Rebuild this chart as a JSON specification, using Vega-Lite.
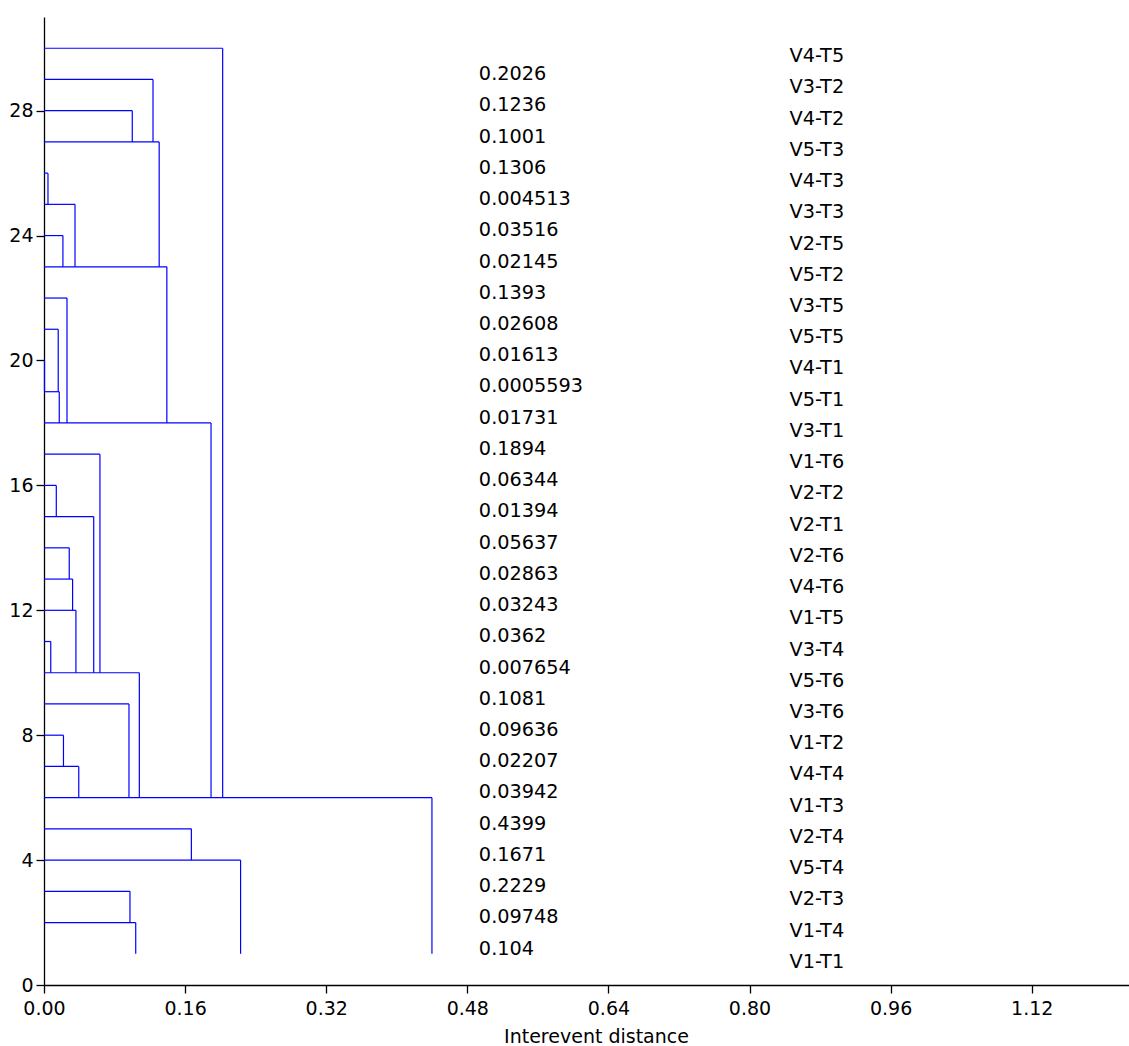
{
  "$schema": "https://vega.github.io/schema/vega-lite/v6.json",
  "width": 1085,
  "height": 968,
  "autosize": {"type": "none"},
  "padding": {"left": 44, "top": 17, "right": 0, "bottom": 61},
  "background": "white",
  "config": {
    "view": {"stroke": null},
    "font": "DejaVu Sans",
    "axis": {
      "grid": false,
      "labelFlush": false,
      "labelOverlap": false,
      "domainColor": "black",
      "tickColor": "black",
      "labelColor": "black",
      "titleColor": "black",
      "labelFont": "DejaVu Sans",
      "titleFont": "DejaVu Sans",
      "labelFontSize": 19,
      "titleFontSize": 19,
      "titleFontWeight": "normal",
      "tickSize": 8,
      "domainWidth": 1.3,
      "tickWidth": 1.3
    }
  },
  "data": {
    "values": [
      {"leaf": 30, "label": "V4-T5", "d": 0.2026, "bottom": 6},
      {"leaf": 29, "label": "V3-T2", "d": 0.1236, "bottom": 27},
      {"leaf": 28, "label": "V4-T2", "d": 0.1001, "bottom": 27},
      {"leaf": 27, "label": "V5-T3", "d": 0.1306, "bottom": 23},
      {"leaf": 26, "label": "V4-T3", "d": 0.004513, "bottom": 25},
      {"leaf": 25, "label": "V3-T3", "d": 0.03516, "bottom": 23},
      {"leaf": 24, "label": "V2-T5", "d": 0.02145, "bottom": 23},
      {"leaf": 23, "label": "V5-T2", "d": 0.1393, "bottom": 18},
      {"leaf": 22, "label": "V3-T5", "d": 0.02608, "bottom": 18},
      {"leaf": 21, "label": "V5-T5", "d": 0.01613, "bottom": 19},
      {"leaf": 20, "label": "V4-T1", "d": 0.0005593, "bottom": 19},
      {"leaf": 19, "label": "V5-T1", "d": 0.01731, "bottom": 18},
      {"leaf": 18, "label": "V3-T1", "d": 0.1894, "bottom": 6},
      {"leaf": 17, "label": "V1-T6", "d": 0.06344, "bottom": 10},
      {"leaf": 16, "label": "V2-T2", "d": 0.01394, "bottom": 15},
      {"leaf": 15, "label": "V2-T1", "d": 0.05637, "bottom": 10},
      {"leaf": 14, "label": "V2-T6", "d": 0.02863, "bottom": 13},
      {"leaf": 13, "label": "V4-T6", "d": 0.03243, "bottom": 12},
      {"leaf": 12, "label": "V1-T5", "d": 0.0362, "bottom": 10},
      {"leaf": 11, "label": "V3-T4", "d": 0.007654, "bottom": 10},
      {"leaf": 10, "label": "V5-T6", "d": 0.1081, "bottom": 6},
      {"leaf": 9, "label": "V3-T6", "d": 0.09636, "bottom": 6},
      {"leaf": 8, "label": "V1-T2", "d": 0.02207, "bottom": 7},
      {"leaf": 7, "label": "V4-T4", "d": 0.03942, "bottom": 6},
      {"leaf": 6, "label": "V1-T3", "d": 0.4399, "bottom": 1},
      {"leaf": 5, "label": "V2-T4", "d": 0.1671, "bottom": 4},
      {"leaf": 4, "label": "V5-T4", "d": 0.2229, "bottom": 1},
      {"leaf": 3, "label": "V2-T3", "d": 0.09748, "bottom": 2},
      {"leaf": 2, "label": "V1-T4", "d": 0.104, "bottom": 1},
      {"leaf": 1, "label": "V1-T1", "d": null, "bottom": null}
    ]
  },
  "layer": [
    {
      "transform": [{"filter": "datum.d != null"}],
      "mark": {"type": "rule", "color": "#0000FF", "strokeWidth": 1.2},
      "encoding": {
        "x": {
          "field": "d",
          "type": "quantitative",
          "scale": {"domain": [0, 1.2303], "nice": false, "zero": false},
          "axis": {
            "values": [0, 0.16, 0.32, 0.48, 0.64, 0.8, 0.96, 1.12],
            "format": ".2f",
            "title": "Interevent distance",
            "labelPadding": 6,
            "titleX": 552,
            "titleY": 57.5,
            "titleAlign": "center",
            "titleBaseline": "alphabetic"
          }
        },
        "x2": {"datum": 0},
        "y": {
          "field": "leaf",
          "type": "quantitative",
          "scale": {"domain": [0, 31], "nice": false, "zero": false},
          "axis": {"values": [0, 4, 8, 12, 16, 20, 24, 28], "title": null, "labelPadding": 3, "format": "d"}
        }
      }
    },
    {
      "transform": [{"filter": "datum.d != null"}],
      "mark": {"type": "rule", "color": "#0000FF", "strokeWidth": 1.2},
      "encoding": {
        "x": {"field": "d", "type": "quantitative"},
        "y": {"field": "leaf", "type": "quantitative"},
        "y2": {"field": "bottom"}
      }
    },
    {
      "transform": [{"filter": "datum.d != null"}],
      "mark": {"type": "text", "align": "left", "baseline": "middle", "dy": 26, "fontSize": 19.3, "font": "DejaVu Sans", "color": "black"},
      "encoding": {
        "x": {"datum": 0.4931, "type": "quantitative"},
        "y": {"field": "leaf", "type": "quantitative"},
        "text": {"field": "d", "type": "nominal"}
      }
    },
    {
      "mark": {"type": "text", "align": "left", "baseline": "middle", "dy": 8, "fontSize": 19.3, "font": "DejaVu Sans", "color": "black"},
      "encoding": {
        "x": {"datum": 0.8453, "type": "quantitative"},
        "y": {"field": "leaf", "type": "quantitative"},
        "text": {"field": "label", "type": "nominal"}
      }
    }
  ]
}
